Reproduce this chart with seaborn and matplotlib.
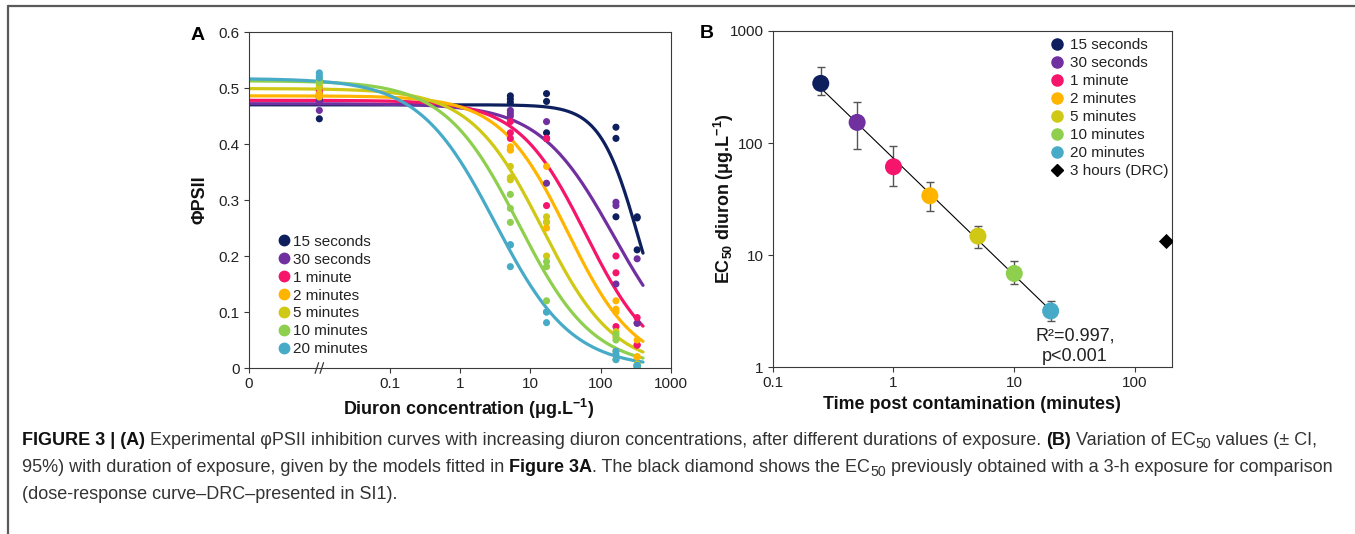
import numpy as np
import pandas as pd
import matplotlib
matplotlib.use("Agg")
import matplotlib.pyplot as plt
import matplotlib.transforms as mtransforms
from matplotlib.lines import Line2D
import seaborn as sns

# ---------------- data ----------------
durations = ["15 seconds", "30 seconds", "1 minute", "2 minutes",
             "5 minutes", "10 minutes", "20 minutes"]
colors = ["#0e1f5e", "#7030a0", "#f5156a", "#ffb500",
          "#cfc814", "#8ecf4e", "#47abc8"]

# Panel A: diuron concentrations (0 = control) and PhiPSII replicates
concentrations = [0, 5.2, 17, 165, 330]
phi_15s = [[0.490, 0.478, 0.445], [0.486, 0.480, 0.474], [0.490, 0.476, 0.420],
           [0.430, 0.410, 0.270], [0.270, 0.268, 0.211]]
phi_30s = [[0.482, 0.475, 0.460], [0.460, 0.455, 0.450], [0.440, 0.410, 0.330],
           [0.296, 0.290, 0.150], [0.195, 0.080, 0.080]]
phi_1min = [[0.500, 0.495, 0.485], [0.440, 0.420, 0.410], [0.410, 0.410, 0.290],
            [0.200, 0.170, 0.074], [0.090, 0.041, 0.041]]
phi_2min = [[0.490, 0.487, 0.484], [0.395, 0.390, 0.389], [0.360, 0.260, 0.250],
            [0.120, 0.105, 0.100], [0.050, 0.020, 0.020]]
phi_5min = [[0.510, 0.505, 0.500], [0.360, 0.340, 0.336], [0.270, 0.261, 0.200],
            [0.065, 0.055, 0.030], [0.007, 0.003, 0.005]]
phi_10min = [[0.515, 0.513, 0.510], [0.310, 0.285, 0.260], [0.190, 0.181, 0.120],
             [0.060, 0.050, 0.015], [0.000, 0.002, 0.001]]
phi_20min = [[0.527, 0.522, 0.518], [0.220, 0.220, 0.181], [0.100, 0.081, 0.100],
             [0.030, 0.024, 0.015], [0.005, 0.003, 0.004]]
phi_all = [phi_15s, phi_30s, phi_1min, phi_2min, phi_5min, phi_10min, phi_20min]

# fitted log-logistic models (upper asymptote, EC50, slope)
curve_top = [0.470, 0.472, 0.478, 0.486, 0.499, 0.513, 0.517]
curve_hill = [1.6, 0.82, 0.90, 0.90, 0.85, 0.82, 0.80]

# Panel B: EC50 vs time
time_min = [0.25, 0.5, 1, 2, 5, 10, 20]
ec50 = [341, 153, 61.5, 33.9, 14.8, 6.87, 3.18]
ci_low = [268, 87.8, 41.6, 24.9, 11.6, 5.5, 2.58]
ci_high = [481, 234, 94.6, 44.6, 18.3, 8.9, 3.9]
drc_time = [180]
drc_ec50 = [13.3]

xticks_A = [0.001, 0.1, 1, 10, 100, 1000]
xticklabels_A = ["0", "0.1", "1", "10", "100", "1000"]
yticks_A = [0, 0.1, 0.2, 0.3, 0.4, 0.5, 0.6]
yticklabels_A = ["0", "0.1", "0.2", "0.3", "0.4", "0.5", "0.6"]
xticks_B = [0.1, 1, 10, 100]
xticklabels_B = ["0.1", "1", "10", "100"]
yticks_B = [1, 10, 100, 1000]
yticklabels_B = ["1", "10", "100", "1000"]

# ---------------- style ----------------
sns.set_theme(style="white")
FONT = "Liberation Sans"
plt.rcParams["font.family"] = [FONT, "DejaVu Sans"]
plt.rcParams["mathtext.fontset"] = "custom"
plt.rcParams["mathtext.rm"] = FONT
plt.rcParams["mathtext.bf"] = FONT + ":bold"
plt.rcParams["axes.edgecolor"] = "#3a3a3a"
plt.rcParams["axes.linewidth"] = 0.8

W, H = 1355, 534
fig = plt.figure(figsize=(W / 100, H / 100), dpi=100)
fig.patch.set_facecolor("white")

def px_box(l, t, r, b):
    return [l / W, 1 - b / H, (r - l) / W, (b - t) / H]

axA = fig.add_axes(px_box(249, 32, 671, 368))
axB = fig.add_axes(px_box(772.7, 31, 1171.7, 367.3))

CTRL_POS = 0.01  # display position used for the 0 (control) concentration

# ---------------- panel A ----------------
rows = []
for d, reps in zip(durations, phi_all):
    for c, vals in zip(concentrations, reps):
        for v in vals:
            rows.append({"duration": d, "conc": c, "phi": v})
df_pts = pd.DataFrame(rows)
df_pts["xpos"] = df_pts["conc"].where(df_pts["conc"] > 0, CTRL_POS)

xgrid = np.logspace(-3, np.log10(400), 300)
crows = []
for d, top, e, h in zip(durations, curve_top, ec50, curve_hill):
    yv = top / (1 + (xgrid / e) ** h)
    crows.append(pd.DataFrame({"duration": d, "conc": xgrid, "phi": yv}))
df_curve = pd.concat(crows, ignore_index=True)

pal = dict(zip(durations, colors))
axA.set_xscale("log")
sns.lineplot(data=df_curve, x="conc", y="phi", hue="duration", hue_order=durations,
             palette=pal, estimator=None, sort=False, linewidth=2.3,
             legend=False, ax=axA, zorder=2)
sns.scatterplot(data=df_pts, x="xpos", y="phi", hue="duration", hue_order=durations,
                palette=pal, s=26, linewidth=0, legend=False, ax=axA, zorder=3)

axA.set_xlim(0.001, 1000)
axA.set_ylim(0, 0.6)
axA.set_xticks(xticks_A)
axA.set_xticklabels(xticklabels_A)
axA.xaxis.set_minor_locator(matplotlib.ticker.NullLocator())
axA.set_yticks(yticks_A)
axA.set_yticklabels(yticklabels_A)

# axis break marks at the control position
trans = mtransforms.blended_transform_factory(axA.transData, axA.transAxes)
for off in (-0.035, 0.035):
    c0 = CTRL_POS * 10 ** off
    axA.plot([c0 * 10 ** -0.025, c0 * 10 ** 0.025], [-0.016, 0.016],
             transform=trans, color="#3a3a3a", lw=0.9, clip_on=False, zorder=5)

# ---------------- panel B ----------------
df_b = pd.DataFrame({"duration": durations, "time": time_min, "ec50": ec50,
                     "lo": ci_low, "hi": ci_high})
axB.set_xscale("log")
axB.set_yscale("log")
axB.errorbar(df_b["time"], df_b["ec50"],
             yerr=[df_b["ec50"] - df_b["lo"], df_b["hi"] - df_b["ec50"]],
             fmt="none", ecolor="#555555", elinewidth=1.0, capsize=3, capthick=1.0,
             zorder=1)
slope, intercept = np.polyfit(np.log10(time_min), np.log10(ec50), 1)
tfit = np.array([min(time_min), max(time_min)])
axB.plot(tfit, 10 ** (intercept + slope * np.log10(tfit)), color="black", lw=0.8, zorder=2)
sns.scatterplot(data=df_b, x="time", y="ec50", hue="duration", hue_order=durations,
                palette=pal, s=150, linewidth=0, legend=False, ax=axB, zorder=3)
sns.scatterplot(x=drc_time, y=drc_ec50, marker="D", color="black", s=60,
                linewidth=0, ax=axB, zorder=3)
axB.set_xlim(0.1, 201)
axB.set_ylim(1, 1000)
axB.set_xticks(xticks_B)
axB.set_xticklabels(xticklabels_B)
axB.set_yticks(yticks_B)
axB.set_yticklabels(yticklabels_B)
axB.xaxis.set_minor_locator(matplotlib.ticker.NullLocator())
axB.yaxis.set_minor_locator(matplotlib.ticker.NullLocator())

axB.text(0.758, 0.063, "R²=0.997,\np<0.001", transform=axB.transAxes,
         ha="center", va="center", fontsize=13, color="#222222", linespacing=1.3)

# ---------------- common axis styling ----------------
for ax in (axA, axB):
    for s in ax.spines.values():
        s.set_visible(True)
        s.set_color("#3a3a3a")
        s.set_linewidth(0.8)
    ax.tick_params(axis="both", which="major", direction="out", length=3.5,
                   width=0.8, color="#3a3a3a", labelsize=11, labelcolor="#222222",
                   bottom=True, left=True, pad=3)
    ax.grid(False)

LBL = 12.9
axA.set_xlabel(r"Diuron concentration (μg.L$^{\mathbf{-1}}$)", fontsize=LBL,
               fontweight="bold", color="#111111")
axA.set_ylabel("ΦPSII", fontsize=LBL, fontweight="bold", color="#111111")
axB.set_xlabel("Time post contamination (minutes)", fontsize=LBL,
               fontweight="bold", color="#111111")
axB.set_ylabel(r"EC$_{\mathbf{50}}$ diuron (μg.L$^{\mathbf{-1}}$)", fontsize=LBL,
               fontweight="bold", color="#111111")
axA.xaxis.set_label_coords(0.52, -0.085)
axB.xaxis.set_label_coords(0.5, -0.085)
axA.yaxis.set_label_coords(-0.097, 0.5)
axB.yaxis.set_label_coords(-0.091, 0.5)

# legends
hA = [Line2D([], [], marker="o", ls="none", color=c, markersize=7.5) for c in colors]
legA = axA.legend(hA, durations, loc="upper left", bbox_to_anchor=(0.0716, 0.397),
                  frameon=False, fontsize=11, handlelength=0.6, handletextpad=0.3,
                  labelspacing=0.26, borderpad=0, borderaxespad=0)
hB = [Line2D([], [], marker="o", ls="none", color=c, markersize=8) for c in colors]
hB.append(Line2D([], [], marker="D", ls="none", color="black", markersize=6.5))
legB = axB.legend(hB, durations + ["3 hours (DRC)"], loc="upper left",
                  bbox_to_anchor=(0.6945, 0.978), frameon=False, fontsize=11,
                  handlelength=0.9, handletextpad=0.45, labelspacing=0.26,
                  borderpad=0, borderaxespad=0)
for leg in (legA, legB):
    for t in leg.get_texts():
        t.set_color("#222222")

# panel letters
fig.text(198 / W, 1 - 35 / H, "A", fontsize=14, fontweight="bold", ha="center",
         va="center", color="black")
fig.text(707 / W, 1 - 33 / H, "B", fontsize=14, fontweight="bold", ha="center",
         va="center", color="black")

# page frame lines
fig.add_artist(Line2D([8 / W, 1], [1 - 6 / H, 1 - 6 / H], transform=fig.transFigure,
                      color="#5a5a5a", lw=1.6))
fig.add_artist(Line2D([8 / W, 8 / W], [0, 1 - 6 / H], transform=fig.transFigure,
                      color="#5a5a5a", lw=1.6))

# ---------------- caption ----------------
CAP_FAMILY = ["Liberation Sans Narrow", "Liberation Sans", "DejaVu Sans"]
CAP_SIZE = 13.0
renderer = fig.canvas.get_renderer()

def text_width(s, size, weight):
    t = fig.text(0, 0, s, fontsize=size, fontweight=weight, family=CAP_FAMILY)
    w = t.get_window_extent(renderer).width
    t.remove()
    return w

def draw_runs(x0px, basepx, runs):
    x = x0px
    for s, weight, sub in runs:
        size = CAP_SIZE * (0.78 if sub else 1.0)
        dy = 3.5 if sub else 0.0
        lead = len(s) - len(s.lstrip(" "))
        trail = len(s) - len(s.rstrip(" "))
        core = s.strip(" ")
        sp = text_width("x x", size, weight) - text_width("xx", size, weight)
        x += lead * sp
        if core:
            col = "#111111" if weight == "bold" else "#333333"
            t = fig.text(x / W, 1 - (basepx + dy) / H, core, fontsize=size,
                         fontweight=weight, family=CAP_FAMILY, color=col,
                         ha="left", va="baseline")
            x += t.get_window_extent(renderer).width
        x += trail * sp

draw_runs(22, 445, [
    ("FIGURE 3 | (A)", "bold", False),
    (" Experimental φPSII inhibition curves with increasing diuron concentrations, after different durations of exposure. ", "normal", False),
    ("(B)", "bold", False),
    (" Variation of EC", "normal", False),
    ("50", "normal", True),
    (" values (± CI,", "normal", False),
])
draw_runs(22, 472, [
    ("95%) with duration of exposure, given by the models fitted in ", "normal", False),
    ("Figure 3A", "bold", False),
    (". The black diamond shows the EC", "normal", False),
    ("50", "normal", True),
    (" previously obtained with a 3-h exposure for comparison", "normal", False),
])
draw_runs(22, 499, [
    ("(dose-response curve–DRC–presented in SI1).", "normal", False),
])

fig.savefig("out.png", dpi=100, facecolor="white")
